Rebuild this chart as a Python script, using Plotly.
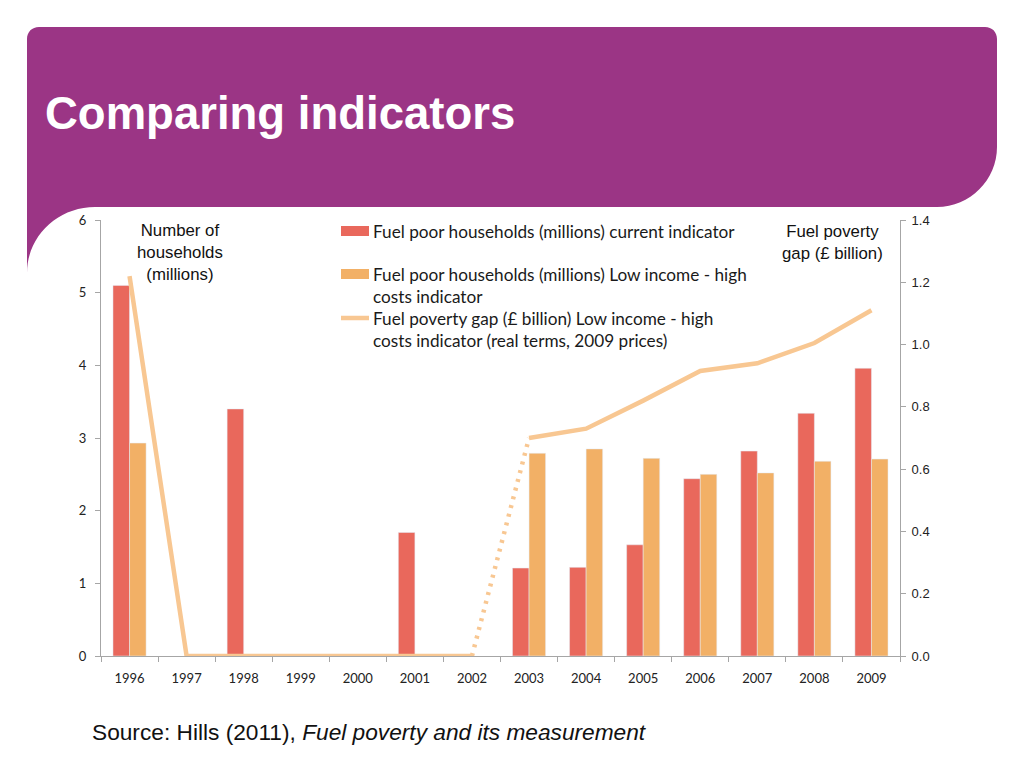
import plotly.graph_objects as go

years = ["1996", "1997", "1998", "1999", "2000", "2001", "2002",
         "2003", "2004", "2005", "2006", "2007", "2008", "2009"]
current_indicator = [5.10, None, 3.40, None, None, 1.70, None,
                     1.21, 1.22, 1.53, 2.44, 2.82, 3.34, 3.96]
lihc_indicator = [2.93, None, None, None, None, None, None,
                  2.79, 2.85, 2.72, 2.50, 2.52, 2.68, 2.71]
gap_billion = [1.22, 0, 0, 0, 0, 0, 0,
               0.70, 0.73, 0.82, 0.915, 0.94, 1.005, 1.11]

legend_labels = [
    "Fuel poor households (millions) current indicator",
    "Fuel poor households (millions) Low income - high<br>costs indicator",
    "Fuel poverty gap (£ billion) Low income - high<br>costs indicator (real terms, 2009 prices)",
]

RED = "#E9685C"
ORANGE = "#F2B066"
PEACH = "#F8C792"
PURPLE = "#9B3585"
AXIS = "#A6A6A6"

OFF = 8  # page body margin
W, H = 1024 - OFF, 768 - OFF
# plot area in screen pixels
SL, SR, ST, SB = 101, 900, 220, 656
L, R, T, B = SL - OFF, SR - OFF, ST - OFF, SB - OFF


def px(x):
    return (x - SL) / (SR - SL)


def py(y):
    return 1 - (y - ST) / (SB - ST)


fig = go.Figure()
fig.add_trace(go.Bar(x=years, y=current_indicator, marker_color=RED,
                     name=legend_labels[0], showlegend=False))
fig.add_trace(go.Bar(x=years, y=lihc_indicator, marker_color=ORANGE,
                     name=legend_labels[1], showlegend=False))
fig.add_trace(go.Scatter(x=years[:7], y=gap_billion[:7], yaxis="y2", mode="lines",
                         line=dict(color=PEACH, width=4.5), showlegend=False))
fig.add_trace(go.Scatter(x=years[6:8], y=gap_billion[6:8], yaxis="y2", mode="lines",
                         line=dict(color=PEACH, width=4.5, dash="3px,6px"), showlegend=False))
fig.add_trace(go.Scatter(x=years[7:], y=gap_billion[7:], yaxis="y2", mode="lines",
                         line=dict(color=PEACH, width=4.5), showlegend=False))


def P(x, y):
    return f"{px(x):.5f},{py(y):.5f}"


path = (
    f"M {P(39,27)} L {P(985,27)} C {P(992,27)} {P(997,32)} {P(997,39)} "
    f"L {P(997,147)} C {P(997,180)} {P(970,207)} {P(937,207)} "
    f"L {P(95,207)} C {P(58,207)} {P(27,236)} {P(27,273)} "
    f"L {P(27,39)} C {P(27,32)} {P(32,27)} {P(39,27)} Z"
)
shapes = [dict(type="path", path=path, xref="paper", yref="paper",
               fillcolor=PURPLE, line=dict(width=0), layer="below")]

shapes.append(dict(type="rect", xref="paper", yref="paper",
                   x0=px(341), x1=px(369), y0=py(236), y1=py(226),
                   fillcolor=RED, line=dict(width=0)))
shapes.append(dict(type="rect", xref="paper", yref="paper",
                   x0=px(341), x1=px(369), y0=py(279), y1=py(269),
                   fillcolor=ORANGE, line=dict(width=0)))
shapes.append(dict(type="line", xref="paper", yref="paper",
                   x0=px(341), x1=px(369), y0=py(318), y1=py(318),
                   line=dict(color=PEACH, width=4.5)))

LEG_FONT = dict(family="Lato, 'Open Sans', sans-serif", size=17.2, color="#1a1a1a")
ARIAL = "Liberation Sans, Arial, sans-serif"
annotations = [
    dict(text="<b>Comparing indicators</b>", xref="paper", yref="paper",
         x=px(43), y=py(113), xanchor="left", yanchor="middle", showarrow=False,
         font=dict(family=ARIAL, size=45.5, color="white")),
    dict(text="Number of<br>households<br>(millions)", xref="paper", yref="paper",
         x=px(180), y=py(252), xanchor="center", yanchor="middle", showarrow=False,
         font=dict(family=ARIAL, size=16.8, color="#111")),
    dict(text="Fuel poverty<br>gap (£ billion)", xref="paper", yref="paper",
         x=px(832), y=py(242), xanchor="center", yanchor="middle", showarrow=False,
         font=dict(family=ARIAL, size=16.8, color="#111")),
    dict(text=legend_labels[0], xref="paper", yref="paper",
         x=px(371), y=py(231), xanchor="left", yanchor="middle", showarrow=False,
         align="left", font=LEG_FONT),
    dict(text=legend_labels[1], xref="paper", yref="paper",
         x=px(371), y=py(285.5), xanchor="left", yanchor="middle", showarrow=False,
         align="left", font=LEG_FONT),
    dict(text=legend_labels[2], xref="paper", yref="paper",
         x=px(371), y=py(329), xanchor="left", yanchor="middle", showarrow=False,
         align="left", font=LEG_FONT),
    dict(text="Source: Hills (2011), <i>Fuel poverty and its measurement</i>",
         xref="paper", yref="paper", x=px(90), y=py(732), xanchor="left",
         yanchor="middle", showarrow=False,
         font=dict(family=ARIAL, size=22.7, color="#111")),
]

TICKFONT = dict(family="Lato, 'Open Sans', sans-serif", size=13, color="#222")
fig.update_layout(
    width=W, height=H,
    margin=dict(l=L, r=W - R, t=T, b=H - B, pad=0),
    paper_bgcolor="white", plot_bgcolor="white",
    barmode="group", bargap=0.42, bargroupgap=0,
    showlegend=False,
    shapes=shapes, annotations=annotations,
    xaxis=dict(type="category", showline=True, linecolor=AXIS, linewidth=1,
               ticks="outside", tickson="boundaries", ticklen=5, tickcolor=AXIS,
               showgrid=False, tickfont=TICKFONT, ticklabelstandoff=10),
    yaxis=dict(range=[0, 6], dtick=1, showline=True, linecolor=AXIS, linewidth=1,
               ticks="outside", ticklen=5, tickcolor=AXIS, showgrid=False,
               zeroline=False, tickfont=TICKFONT, ticklabelstandoff=6),
    yaxis2=dict(range=[0, 1.4], dtick=0.2, tickformat=".1f", overlaying="y",
                side="right", showline=True, linecolor=AXIS, linewidth=1,
                ticks="outside", ticklen=5, tickcolor=AXIS, showgrid=False,
                zeroline=False, ticklabelstandoff=3,
                tickfont=dict(family=ARIAL, size=13, color="#222")),
)

fig.write_html("out.html", config={"displayModeBar": False})
